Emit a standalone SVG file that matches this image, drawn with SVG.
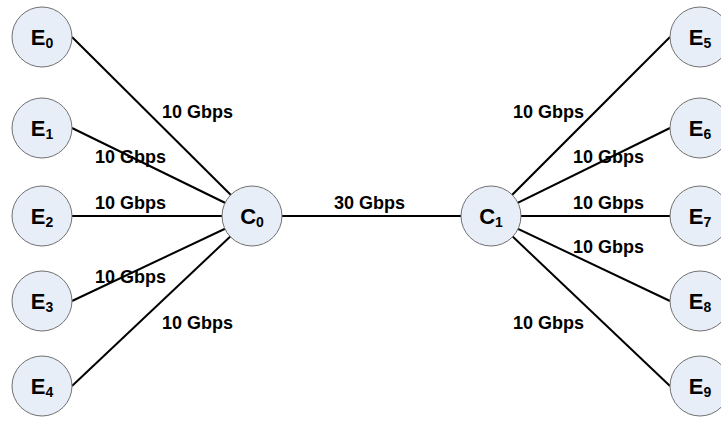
<svg xmlns="http://www.w3.org/2000/svg" width="721" height="429" viewBox="0 0 721 429">
<style>
.edge{stroke:#000;stroke-width:2;fill:none}
.node circle{fill:#E8EEF8;stroke:#707070;stroke-width:1}
.node text{font-family:"Liberation Sans",Arial,sans-serif;font-weight:bold;font-size:22px;fill:#000;text-anchor:middle}
.node tspan{font-size:14px}
.lbl{font-family:"Liberation Sans",Arial,sans-serif;font-weight:bold;font-size:18px;fill:#000}
</style>
<rect width="721" height="429" fill="#fff"/>
<g id="connectors">
<line class="edge" x1="72" y1="37" x2="252" y2="216"/>
<line class="edge" x1="72" y1="128" x2="252" y2="216"/>
<line class="edge" x1="72" y1="216" x2="252" y2="216"/>
<line class="edge" x1="72" y1="301" x2="252" y2="216"/>
<line class="edge" x1="72" y1="386" x2="252" y2="216"/>
<line class="edge" x1="252" y1="216" x2="491" y2="216"/>
<line class="edge" x1="491" y1="216" x2="670" y2="37"/>
<line class="edge" x1="491" y1="216" x2="670" y2="128"/>
<line class="edge" x1="491" y1="216" x2="670" y2="216"/>
<line class="edge" x1="491" y1="216" x2="670" y2="301"/>
<line class="edge" x1="491" y1="216" x2="670" y2="386"/>
</g>
<g id="labels">
<text class="lbl" x="162" y="118">10 Gbps</text>
<text class="lbl" x="95" y="163">10 Gbps</text>
<text class="lbl" x="95" y="209">10 Gbps</text>
<text class="lbl" x="95" y="283">10 Gbps</text>
<text class="lbl" x="162" y="329">10 Gbps</text>
<text class="lbl" x="334" y="209">30 Gbps</text>
<text class="lbl" x="513" y="118">10 Gbps</text>
<text class="lbl" x="573" y="163">10 Gbps</text>
<text class="lbl" x="573" y="209">10 Gbps</text>
<text class="lbl" x="573" y="253">10 Gbps</text>
<text class="lbl" x="513" y="329">10 Gbps</text>
</g>
<g id="E0" class="node"><circle cx="42" cy="37" r="30"/><text x="42" y="45">E<tspan dy="3">0</tspan></text></g>
<g id="E1" class="node"><circle cx="42" cy="128" r="30"/><text x="42" y="136">E<tspan dy="3">1</tspan></text></g>
<g id="E2" class="node"><circle cx="42" cy="216" r="30"/><text x="42" y="224">E<tspan dy="3">2</tspan></text></g>
<g id="E3" class="node"><circle cx="42" cy="301" r="30"/><text x="42" y="309">E<tspan dy="3">3</tspan></text></g>
<g id="E4" class="node"><circle cx="42" cy="386" r="30"/><text x="42" y="394">E<tspan dy="3">4</tspan></text></g>
<g id="C0" class="node"><circle cx="252" cy="216" r="30"/><text x="252" y="224">C<tspan dy="3">0</tspan></text></g>
<g id="C1" class="node"><circle cx="491" cy="216" r="30"/><text x="491" y="224">C<tspan dy="3">1</tspan></text></g>
<g id="E5" class="node"><circle cx="700" cy="37" r="30"/><text x="700" y="45">E<tspan dy="3">5</tspan></text></g>
<g id="E6" class="node"><circle cx="700" cy="128" r="30"/><text x="700" y="136">E<tspan dy="3">6</tspan></text></g>
<g id="E7" class="node"><circle cx="700" cy="216" r="30"/><text x="700" y="224">E<tspan dy="3">7</tspan></text></g>
<g id="E8" class="node"><circle cx="700" cy="301" r="30"/><text x="700" y="309">E<tspan dy="3">8</tspan></text></g>
<g id="E9" class="node"><circle cx="700" cy="386" r="30"/><text x="700" y="394">E<tspan dy="3">9</tspan></text></g>
</svg>
